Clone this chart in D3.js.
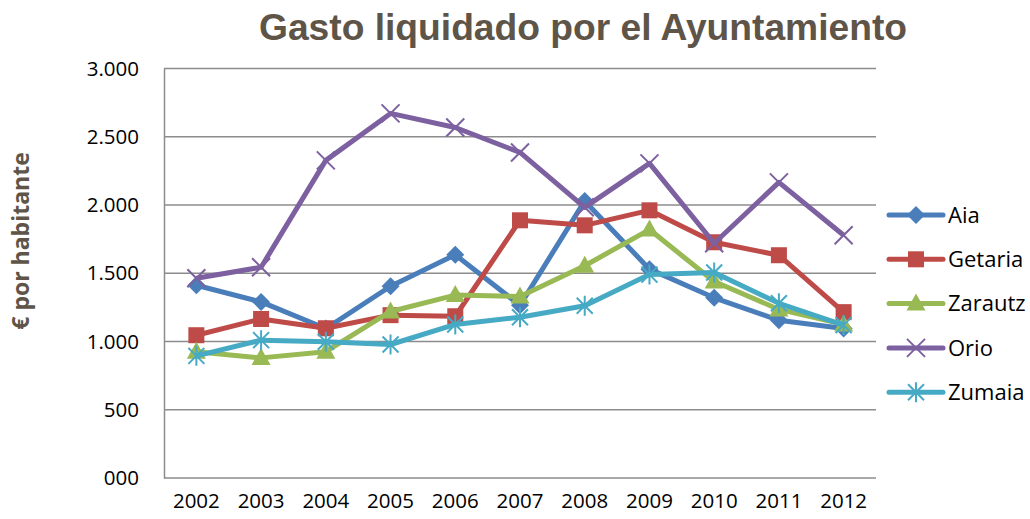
<!DOCTYPE html>
<html>
<head>
<meta charset="utf-8">
<script src="https://cdn.jsdelivr.net/npm/d3@7"></script>
<style>
  body { margin: 0; background: #fff; }
  svg { display: block; }
</style>
</head>
<body>
<div id="chart"></div>
<script>
// data
const years = ['2002', '2003', '2004', '2005', '2006', '2007', '2008', '2009', '2010', '2011', '2012'];
const aia     = [1412, 1290, 1095, 1405, 1635, 1265, 2030, 1530, 1320, 1155, 1095];
const getaria = [1046, 1165, 1097, 1193, 1185, 1888, 1851, 1961, 1727, 1632, 1215];
const zarautz = [ 925,  880,  925, 1220, 1340, 1330, 1555, 1820, 1440, 1235, 1125];
const orio    = [1463, 1544, 2327, 2671, 2568, 2385, 1983, 2305, 1720, 2166, 1778];
const zumaia  = [ 895, 1010,  998,  978, 1125, 1178, 1262, 1490, 1505, 1280, 1120];
const yTicks = [0, 500, 1000, 1500, 2000, 2500, 3000];
const yTickLabels = ['000', '500', '1.000', '1.500', '2.000', '2.500', '3.000'];

const series = [
  { name: 'Aia', values: aia, color: '#4a7ebb', marker: 'diamond' },
  { name: 'Getaria', values: getaria, color: '#be4b48', marker: 'square' },
  { name: 'Zarautz', values: zarautz, color: '#98b954', marker: 'triangle' },
  { name: 'Orio', values: orio, color: '#7d60a0', marker: 'x' },
  { name: 'Zumaia', values: zumaia, color: '#46aac5', marker: 'star' }
];

const W = 1030, H = 519;
const plot = { left: 164, right: 876, top: 68.5, bottom: 478 };

const svg = d3.select('#chart').append('svg')
  .attr('width', W)
  .attr('height', H);

const x = d3.scaleBand().domain(years).range([plot.left, plot.right]).padding(0);
const y = d3.scaleLinear().domain([0, 3000]).range([plot.bottom, plot.top]);
const cx = d => x(d) + x.bandwidth() / 2;

// title
svg.append('text')
  .attr('x', 583)
  .attr('y', 40)
  .attr('text-anchor', 'middle')
  .attr('fill', '#5e5448')
  .attr('textLength', 648)
  .attr('lengthAdjust', 'spacingAndGlyphs')
  .style('font-family', '"Liberation Sans", Arial, sans-serif')
  .style('font-weight', 'bold')
  .style('font-size', '36px')
  .text('Gasto liquidado por el Ayuntamiento');

// y-axis title
svg.append('text')
  .attr('transform', 'translate(29,241) rotate(-90)')
  .attr('text-anchor', 'middle')
  .attr('fill', '#5e5448')
  .style('font-family', '"Open Sans", sans-serif')
  .style('font-weight', 'bold')
  .style('font-size', '23px')
  .text('€ por habitante');

// gridlines
svg.append('g')
  .selectAll('line')
  .data(yTicks)
  .join('line')
  .attr('x1', plot.left)
  .attr('x2', plot.right)
  .attr('y1', d => y(d))
  .attr('y2', d => y(d))
  .attr('stroke', '#8c8c8c')
  .attr('stroke-width', 1.5);

// y axis
const yAxis = d3.axisLeft(y)
  .tickValues(yTicks)
  .tickFormat((d, i) => yTickLabels[i])
  .tickSize(0)
  .tickPadding(25);

const yAxisG = svg.append('g')
  .attr('transform', `translate(${plot.left},0)`)
  .call(yAxis);
yAxisG.select('.domain').attr('stroke', '#8c8c8c').attr('stroke-width', 1.5);
yAxisG.selectAll('text')
  .attr('fill', '#000')
  .style('font-family', '"Open Sans", sans-serif')
  .style('font-size', '20.5px');

// x axis
const xAxis = d3.axisBottom(x).tickSize(0).tickPadding(15);
const xAxisG = svg.append('g')
  .attr('transform', `translate(0,${plot.bottom})`)
  .call(xAxis);
xAxisG.select('.domain').remove();
xAxisG.selectAll('text')
  .attr('fill', '#000')
  .style('font-family', '"Open Sans", sans-serif')
  .style('font-size', '20.5px');

// marker drawing
function drawMarker(g, type, color) {
  if (type === 'diamond') {
    g.append('path').attr('d', 'M0,-9L9,0L0,9L-9,0Z').attr('fill', color);
  } else if (type === 'square') {
    g.append('rect').attr('x', -8).attr('y', -8).attr('width', 16).attr('height', 16).attr('fill', color);
  } else if (type === 'triangle') {
    g.append('path').attr('d', 'M0,-10L9.5,7L-9.5,7Z').attr('fill', color);
  } else if (type === 'x') {
    g.append('path').attr('d', 'M-9,-9L9,9M-9,9L9,-9')
      .attr('stroke', color).attr('stroke-width', 2).attr('fill', 'none');
  } else if (type === 'star') {
    g.append('path').attr('d', 'M-8,-8L8,8M-8,8L8,-8M0,-10L0,10')
      .attr('stroke', color).attr('stroke-width', 2).attr('fill', 'none');
  }
}

const line = d3.line()
  .x((d, i) => cx(years[i]))
  .y(d => y(d));

series.forEach(s => {
  const g = svg.append('g').attr('class', 'series');
  g.append('path')
    .datum(s.values)
    .attr('d', line)
    .attr('fill', 'none')
    .attr('stroke', s.color)
    .attr('stroke-width', 5)
    .attr('stroke-linejoin', 'round');

  g.selectAll('.pt')
    .data(s.values)
    .join('g')
    .attr('class', 'pt')
    .attr('transform', (d, i) => `translate(${cx(years[i])},${y(d)})`)
    .each(function () { drawMarker(d3.select(this), s.marker, s.color); });
});

// legend
const legend = svg.append('g').attr('transform', 'translate(889,215)');
const rows = legend.selectAll('g')
  .data(series)
  .join('g')
  .attr('transform', (d, i) => `translate(0,${i * 44.3})`);

rows.append('line')
  .attr('x1', 0).attr('x2', 54)
  .attr('stroke', d => d.color)
  .attr('stroke-width', 5)
  .attr('stroke-linecap', 'round');

rows.each(function (d) {
  const m = d3.select(this).append('g').attr('transform', 'translate(27,0)');
  drawMarker(m, d.marker, d.color);
});

rows.append('text')
  .attr('x', 59)
  .attr('dy', '0.35em')
  .attr('fill', '#000')
  .style('font-family', '"Open Sans", sans-serif')
  .style('font-size', '22px')
  .text(d => d.name);
</script>
</body>
</html>
